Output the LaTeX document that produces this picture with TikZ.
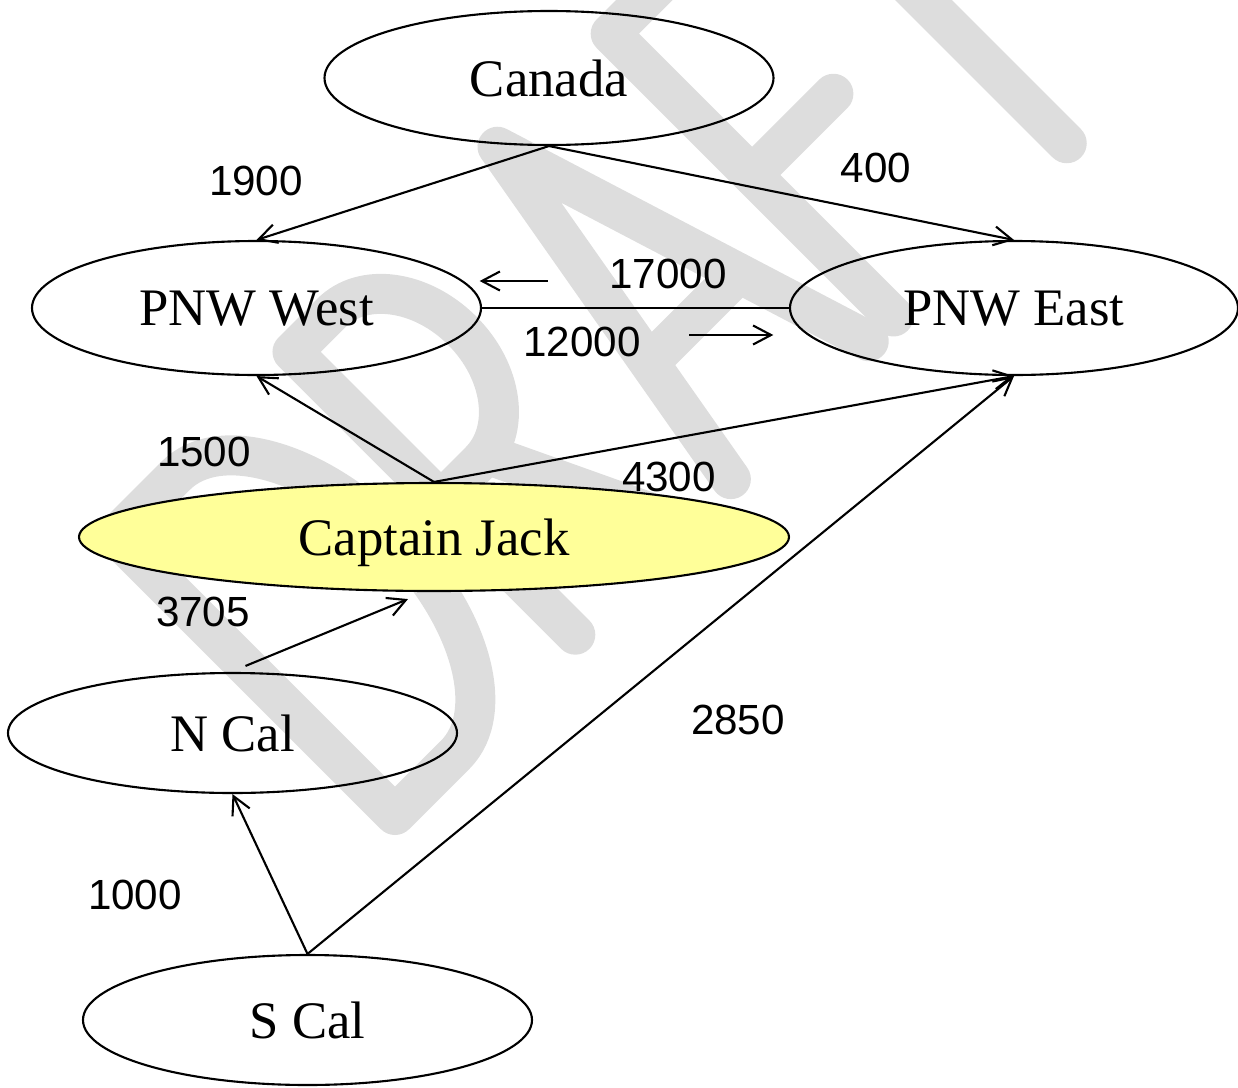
\documentclass[tikz,border=0pt]{standalone}
\usepackage{fontspec}
\setmainfont{Liberation Serif}
\newfontfamily\arialfont{Liberation Sans}
\usepackage{tikz}
\usetikzlibrary{arrows.meta, shapes.geometric}

\definecolor{JackYellow}{RGB}{255,255,153}
\definecolor{DraftGray}{RGB}{221,221,221}

\tikzset{
    region/.style={ellipse, draw, line width=0.6pt, inner sep=0pt, text depth=0pt, font=\fontsize{15}{18}\selectfont},
    flow/.style={line width=0.6pt, -{Straight Barb[length=1.8mm, width=1.9mm]}},
    amount/.style={inner sep=0pt, font=\arialfont\fontsize{12}{14}\selectfont},
    draftstroke/.style={DraftGray, line width=4mm, line cap=round, line join=round}
}

\begin{document}
\begin{tikzpicture}
        \useasboundingbox (0,0) rectangle (12.38,10.87);

        % watermark
        \begin{scope}[shift={(3.95,2.72)}, rotate=45, draftstroke]
            \draw (0,0) -- (0,3.95) -- (0.85,3.95) arc[start angle=90, end angle=-90, x radius=1.1, y radius=1.975] -- cycle;
            \draw (2.55,0) -- (2.55,4) -- (3.1,4) arc[start angle=90, end angle=-90, x radius=0.8, y radius=1.05] -- (2.55,1.9);
            \draw (3.2,1.9) -- (4.1,0);
            \draw (4.75,0) -- (5.45,4) -- (6.7,0);
            \draw (5.0,1.4) -- (6.26,1.4);
            \draw (8.3,4) -- (7.05,4) -- (7.05,0);
            \draw (7.05,2.0) -- (8.2,2.0);
            \draw (8.5,4) -- (10.5,4);
            \draw (9.5,4) -- (9.5,0);
        \end{scope}

        \node[region, minimum width=4.49cm, minimum height=1.34cm] (canada) at (5.49,10.09) {Canada};
        \node[region, minimum width=4.49cm, minimum height=1.34cm] (pnww) at (2.565,7.79) {PNW West};
        \node[region, minimum width=4.48cm, minimum height=1.34cm] (pnwe) at (10.14,7.79) {PNW East};
        \node[region, fill=JackYellow, minimum width=7.10cm, minimum height=1.08cm] (jack) at (4.34,5.50) {Captain Jack};
        \node[region, minimum width=4.49cm, minimum height=1.20cm] (ncal) at (2.325,3.54) {N Cal};
        \node[region, minimum width=4.49cm, minimum height=1.30cm] (scal) at (3.075,0.67) {S Cal};

        \draw[flow] (canada.south) -- (pnww.north);
        \draw[flow] (canada.south) -- (pnwe.north);
        \draw[line width=0.6pt] (pnwe.west) -- (pnww.east);
        \draw[flow] (jack.north) -- (pnww.south);
        \draw[flow] (jack.north) -- (pnwe.south);
        \draw[flow] ([shift={(0.13,0.06)}]ncal.north) -- ([shift={(-0.26,-0.07)}]jack.south);
        \draw[flow] (scal.north) -- (ncal.south);
        \draw[flow] (scal.north) -- (pnwe.south);

        \node[amount] (l1900) at (2.56,9.06) {1900};
        \node[amount] (l400) at (8.76,9.19) {400};
        \node[amount] (l17000) at (6.68,8.13) {17000};
        \node[amount] (l12000) at (5.82,7.45) {12000};
        \node[amount] (l1500) at (2.04,6.35) {1500};
        \node[amount] (l4300) at (6.69,6.10) {4300};
        \node[amount] (l3705) at (2.03,4.75) {3705};
        \node[amount] (l2850) at (7.38,3.67) {2850};
        \node[amount] (l1000) at (1.35,1.92) {1000};

        \draw[flow] ([shift={(-0.61,-0.07)}]l17000.west) -- ++(-0.68,0);
        \draw[flow] ([shift={(0.48,0.07)}]l12000.east) -- ++(0.84,0);
\end{tikzpicture}
\end{document}
